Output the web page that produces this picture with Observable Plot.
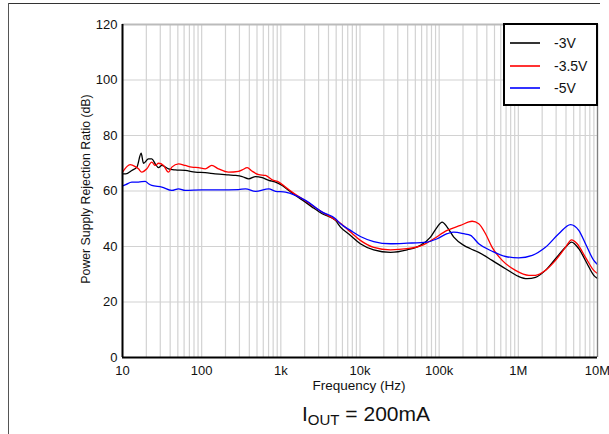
<!DOCTYPE html>
<html>
<head>
<meta charset="utf-8">
<script src="https://cdn.jsdelivr.net/npm/d3@7"></script>
<script src="https://cdn.jsdelivr.net/npm/@observablehq/plot@0.6"></script>
<style>
  html, body { margin: 0; padding: 0; background: #fff; }
  body { font-family: "Liberation Sans", Arial, sans-serif; color: #111; }
  #wrap { position: relative; width: 609px; height: 434px; overflow: hidden; }
  #chart { position: absolute; left: 0; top: 0; }
  .frameTop { position: absolute; left: 9px; top: 3px; width: 591px; height: 1px; background: #333; }
  .frameLeft { position: absolute; left: 8px; top: 3px; width: 1px; height: 431px; background: #555; }
  #ylabel { position: absolute; left: 86px; top: 189px; transform: translate(-50%, -50%) rotate(-90deg);
            white-space: nowrap; font-size: 12.3px; }
  #xlabel { position: absolute; left: 359px; top: 378px; transform: translateX(-50%);
            white-space: nowrap; font-size: 13.5px; }
  #caption { position: absolute; left: 366px; top: 402px; transform: translateX(-50%);
             white-space: nowrap; font-size: 21px; }
  #caption sub { font-size: 15px; vertical-align: -4px; line-height: 0; }
  #legend { position: absolute; left: 503px; top: 23px; width: 95px; height: 83px; box-sizing: border-box;
            border: 2px solid #000; background: #fff; }
  .lrow { position: absolute; left: 5px; height: 20px; display: flex; align-items: center; font-size: 14px; }
  .lrow svg { margin-right: 14px; }
</style>
</head>
<body>
<div id="wrap">
  <div id="chart"></div>
  <div class="frameTop"></div>
  <div class="frameLeft"></div>
  <div id="ylabel">Power Supply Rejection Ratio (dB)</div>
  <div id="xlabel">Frequency (Hz)</div>
  <div id="caption">I<sub>OUT</sub> = 200mA</div>
  <div id="legend"></div>
</div>
<script>
// ---- Data ----
const seriesNames = ["-3V", "-3.5V", "-5V"];
const seriesColors = ["#000000", "#ff0000", "#0000ff"];

const freq3V = [10, 11, 13.1, 15.2, 17.2, 18.4, 21.3, 23.4, 25.9, 28.5, 31.4, 38.1, 46.4, 62, 83, 111, 148, 218, 267, 325, 394, 479, 582, 705, 857, 1040, 1260, 1530, 1860, 2490, 3330, 4900, 5670, 7590, 10100, 14900, 24300, 39400, 58000, 77700, 94400, 109000, 126000, 153000, 205000, 249000, 316000, 467000, 689000, 1010000, 1290000, 1650000, 2200000, 2950000, 3940000, 4700000, 5800000, 7400000, 8970000, 10000000];
const psrr3V = [66.2, 66.2, 67.4, 68.6, 73.6, 70, 71.6, 71.6, 69.8, 68.4, 69.2, 68, 67.6, 67.4, 66.8, 66.6, 66.2, 65.8, 65.6, 65.2, 64.4, 65.2, 64.8, 63.8, 63.2, 62, 60.2, 58.4, 56.8, 54.2, 51.8, 49.4, 47, 44, 41, 38.8, 37.9, 38.8, 40.4, 43.4, 47, 48.8, 47, 43.4, 40.4, 39.2, 37.9, 35, 32, 29.2, 28.4, 28.9, 31.4, 35.6, 39.7, 41.6, 39.2, 33.8, 29.6, 28.5];

const freq35V = [10, 12.5, 14.5, 15.9, 17.5, 20.3, 23.4, 25.9, 28.5, 33, 38.1, 42, 51, 62, 75, 91, 111, 134, 163, 218, 292, 325, 376, 435, 527, 640, 778, 943, 1145, 1390, 1860, 3330, 4900, 5670, 7590, 10100, 14900, 24300, 39400, 64000, 85500, 126000, 186000, 261000, 316000, 385000, 467000, 625000, 920000, 1360000, 1650000, 2200000, 2950000, 3940000, 4700000, 5530000, 7050000, 8970000, 10000000];
const psrr35V = [66.8, 69.5, 68.8, 68, 66.8, 68, 70.4, 69.2, 70, 69.2, 66.8, 68.6, 69.8, 69.2, 68.6, 68.4, 68, 69.2, 68, 66.8, 67.1, 67.6, 68.4, 67.1, 65.9, 65.6, 64, 63.2, 61.4, 59.6, 57.2, 52.4, 49.6, 48.4, 45.2, 42.2, 39.7, 38.8, 39.2, 40.7, 42.8, 45.8, 47.6, 49.1, 48.2, 44.6, 39.7, 35, 31.4, 29.6, 29.6, 31.4, 35, 39.7, 42.4, 41, 36.1, 31.4, 30.3];

const freq5V = [10, 11, 13.1, 15.9, 19.4, 21.3, 23.4, 31.4, 42, 51, 62, 100, 163, 292, 358, 479, 705, 857, 1145, 1530, 2050, 3330, 4900, 5670, 7590, 10100, 14900, 24300, 39400, 70600, 94400, 126000, 153000, 205000, 249000, 316000, 467000, 689000, 1010000, 1500000, 2200000, 3240000, 4560000, 5800000, 7050000, 8970000, 10000000];
const psrr5V = [61.8, 62.3, 63.2, 63.2, 63.5, 62.6, 62, 61.4, 60.2, 60.8, 60.2, 60.4, 60.4, 60.5, 60.8, 59.9, 60.8, 59.9, 59.6, 58.4, 56.6, 52.4, 50, 48.2, 45.8, 43.6, 41.8, 41, 41.2, 41.6, 42.8, 44.6, 45.2, 44.6, 44, 41, 38.3, 36.4, 35.9, 36.8, 39.7, 44.6, 47.9, 45.8, 41, 35, 33.5];

// Axis ticks
const xTicks = [10, 100, 1000, 10000, 100000, 1000000, 10000000];
const xTickLabels = ["10", "100", "1k", "10k", "100k", "1M", "10M"];
const yTicks = [0, 20, 40, 60, 80, 100, 120];

// ---- Build table ----
const allFreqs = [freq3V, freq35V, freq5V];
const allVals = [psrr3V, psrr35V, psrr5V];
const rows = [];
seriesNames.forEach((name, s) => {
  allFreqs[s].forEach((f, i) => rows.push({series: name, f, v: allVals[s][i]}));
});

const labelMap = new Map(xTicks.map((t, i) => [t, xTickLabels[i]]));
const minorGrid = d3.scaleLog().domain([xTicks[0], xTicks[xTicks.length - 1]]).ticks();

const chart = Plot.plot({
  width: 609,
  height: 400,
  marginTop: 24,
  marginBottom: 43,
  marginLeft: 122,
  marginRight: 12,
  style: {fontFamily: "'Liberation Sans', Arial, sans-serif", fontSize: "13px", color: "#111", background: "transparent"},
  x: {type: "log", domain: [xTicks[0], xTicks[xTicks.length - 1]], ticks: xTicks, tickFormat: d => labelMap.get(d), tickSize: 0, tickPadding: 8, label: null},
  y: {domain: [0, 120], ticks: yTicks, tickSize: 0, tickPadding: 5, label: null},
  color: {domain: seriesNames, range: seriesColors},
  marks: [
    Plot.ruleX(minorGrid, {stroke: "#d2d2d2", strokeWidth: 1.2}),
    Plot.ruleY(yTicks.slice(1, -1), {stroke: "#d2d2d2", strokeWidth: 1.2}),
    Plot.ruleY([yTicks[yTicks.length - 1]], {stroke: "#bbbbbb", strokeWidth: 2}),
    Plot.line(rows, {x: "f", y: "v", z: "series", stroke: "series", strokeWidth: 1.3, curve: "monotone-x"}),
    Plot.ruleX([xTicks[xTicks.length - 1]], {stroke: "#808080", strokeWidth: 1.3}),
    Plot.ruleY([0], {stroke: "#000", strokeWidth: 2}),
    Plot.ruleX([xTicks[0]], {stroke: "#000", strokeWidth: 2})
  ]
});
document.getElementById("chart").appendChild(chart);

// ---- Legend ----
const legend = document.getElementById("legend");
seriesNames.forEach((name, i) => {
  const row = document.createElement("div");
  row.className = "lrow";
  row.style.top = (8 + i * 22.7) + "px";
  row.innerHTML = `<svg width="30" height="4"><line x1="0" x2="30" y1="2" y2="2" stroke="${seriesColors[i]}" stroke-width="1.6"/></svg><span>${name}</span>`;
  legend.appendChild(row);
});
</script>
</body>
</html>
